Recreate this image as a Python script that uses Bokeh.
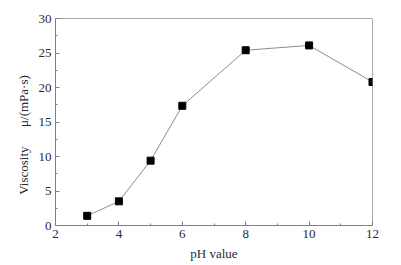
from bokeh.plotting import figure
from bokeh.embed import file_html
from bokeh.resources import INLINE
from bokeh.models import Range1d, FixedTicker

ph = [3, 4, 5, 6, 8, 10, 12]
viscosity = [1.4, 3.5, 9.4, 17.35, 25.4, 26.1, 20.8]
x_ticks = [2, 4, 6, 8, 10, 12]
y_ticks = [0, 5, 10, 15, 20, 25, 30]

p = figure(width=401, height=265, output_backend="svg", toolbar_location=None,
           x_range=Range1d(2, 12), y_range=Range1d(0, 30),
           min_border_left=55, min_border_right=29, min_border_top=18, min_border_bottom=40)
p.grid.visible = False
p.outline_line_color = "#a8a8a8"
p.outline_line_width = 1
p.background_fill_color = "white"
p.border_fill_color = "white"

p.line(ph, viscosity, line_color="#707070", line_width=0.8)
p.scatter(ph, viscosity, marker="square", size=7, fill_color="black", line_color="black")

font = "'Liberation Serif', 'Times New Roman', serif"
for ax in (p.xaxis[0], p.yaxis[0]):
    ax.axis_line_color = "#808080"
    ax.major_tick_line_color = "#808080"
    ax.minor_tick_line_color = "#808080"
    ax.major_tick_in = 4
    ax.major_tick_out = 0
    ax.minor_tick_in = 2
    ax.minor_tick_out = 0
    ax.major_label_text_font = font
    ax.major_label_text_font_size = "13px"
    ax.major_label_text_color = "#2a2a2a"
    ax.axis_label_text_font = font
    ax.axis_label_text_font_size = "13px"
    ax.axis_label_text_font_style = "normal"
    ax.axis_label_text_color = "#2a2a2a"
    ax.major_label_standoff = 4
    ax.axis_label_standoff = 5

p.xaxis[0].ticker = FixedTicker(ticks=x_ticks, minor_ticks=[3, 5, 7, 9, 11])
p.yaxis[0].ticker = FixedTicker(ticks=y_ticks, minor_ticks=[2.5, 7.5, 12.5, 17.5, 22.5, 27.5])
p.xaxis[0].axis_label = "pH value"
p.yaxis[0].axis_label = ("Viscosity" + "\u00a0" * 6 + "\u03bc/(mPa\u00b7s)" + "\u00a0" * 8)

open("out.html", "w").write(file_html(p, INLINE))
